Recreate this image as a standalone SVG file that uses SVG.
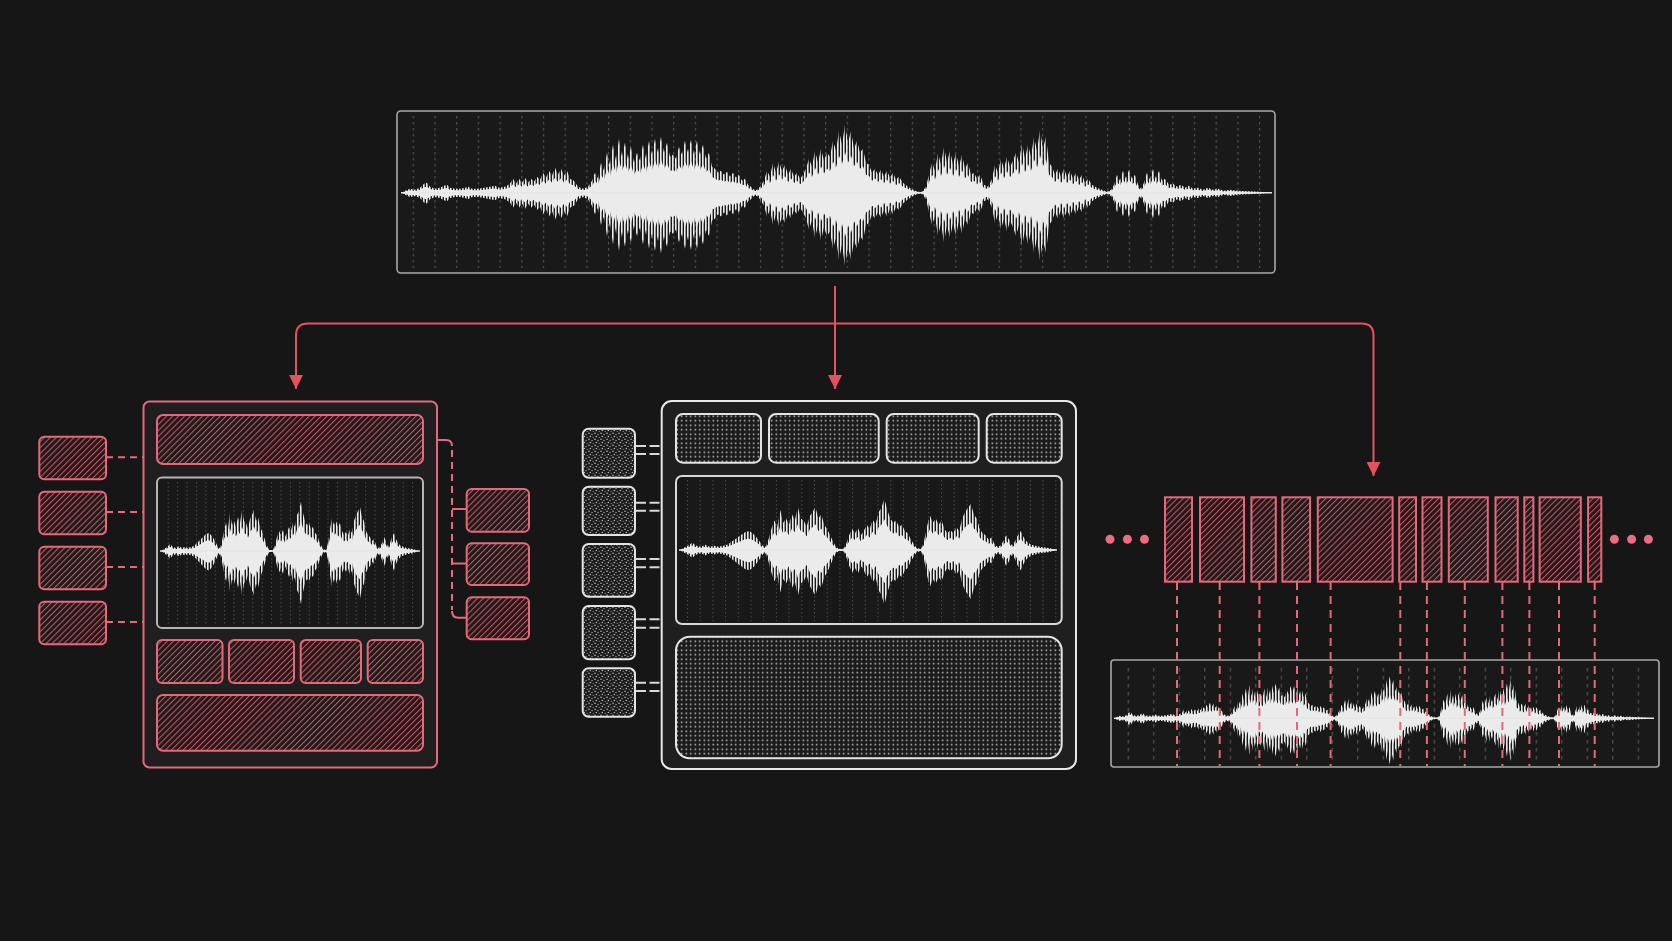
<svg xmlns="http://www.w3.org/2000/svg" width="1672" height="941" viewBox="0 0 1672 941">
<style>
.pk{fill:url(#hatch);stroke:#e8687b;stroke-width:2}
.gw{fill:url(#dots);stroke:#e4e4e4;stroke-width:2}
.gs{fill:url(#dots2);stroke:#e4e4e4;stroke-width:2}
.wbox{fill:#191919;stroke:#a8a8a8;stroke-width:1.6}
.red{stroke:#e5525e;stroke-width:2;fill:none}
.pdash{stroke:#e8687b;stroke-width:2;fill:none;stroke-dasharray:7 5}
.vdash{stroke:#e8687b;stroke-width:2;fill:none;stroke-dasharray:8 6}
.wdash{stroke:#d8d8d8;stroke-width:2;fill:none;stroke-dasharray:10 3.5}
.pl{stroke:#e8687b;stroke-width:2;fill:none}
.core{fill:#ebebeb}
.cl{stroke:#e6e6e6;stroke-width:1.4}
.pdot{fill:#ee6b80}
</style>
<defs>
<marker id="ah" markerWidth="14" markerHeight="14" refX="14" refY="7" orient="auto" markerUnits="userSpaceOnUse"><path d="M0,0 L14,7 L0,14 Z" fill="#e5525e"/></marker>
<pattern id="hatch" width="4.2" height="10" patternUnits="userSpaceOnUse" patternTransform="rotate(45)"><rect width="4.2" height="10" fill="#201a1b"/><rect width="1" height="10" fill="#c95865"/></pattern>
<pattern id="stripes" width="3" height="10" patternUnits="userSpaceOnUse"><rect width="1.6" height="10" fill="#ececec"/></pattern>
<pattern id="dots" width="4.5" height="4.5" patternUnits="userSpaceOnUse"><rect width="4.5" height="4.5" fill="#1b1b1b"/><circle cx="2.25" cy="2.25" r="0.8" fill="#d0d0d0"/></pattern>
<pattern id="dots2" width="6" height="6" patternUnits="userSpaceOnUse"><rect width="6" height="6" fill="#1b1b1b"/><circle cx="1" cy="1.2" r="0.75" fill="#c8c8c8"/><circle cx="4" cy="2.5" r="0.7" fill="#aaa"/><circle cx="2.3" cy="4.6" r="0.75" fill="#c0c0c0"/><circle cx="5.2" cy="5.3" r="0.6" fill="#999"/></pattern>
<pattern id="gTop" x="412.7" y="116" width="21.7" height="6" patternUnits="userSpaceOnUse"><rect width="1.2" height="2.5" fill="#505050"/></pattern>
<pattern id="gLeft" x="167.7" y="482" width="9.4" height="4" patternUnits="userSpaceOnUse"><rect width="1" height="1.6" fill="#4a4a4a"/></pattern>
<pattern id="gMid" x="687" y="480" width="12.7" height="4" patternUnits="userSpaceOnUse"><rect width="1" height="1.6" fill="#4a4a4a"/></pattern>
<pattern id="gBR" x="1127.7" y="668" width="25.5" height="8" patternUnits="userSpaceOnUse"><rect width="1.2" height="3.5" fill="#555"/></pattern>
<path id="wA" d="M402,0 L405,-2 L410,-4 L415,-3 L420,-5 L424,-9 L427,-10 L430,-6 L435,-4 L440,-5 L444,-7 L447,-8 L450,-5 L455,-4 L460,-4 L465,-5 L468,-6 L472,-4 L478,-4 L484,-5 L490,-6 L495,-7 L499,-5 L505,-6 L510,-9 L513,-14 L516,-9 L519,-14 L522,-10 L525,-15 L528,-10 L531,-14 L534,-11 L537,-16 L540,-13 L543,-20 L546,-15 L549,-22 L552,-17 L555,-25 L558,-18 L561,-24 L564,-17 L567,-22 L570,-14 L574,-12 L578,-6 L583,-4 L588,-6 L592,-12 L595,-20 L598,-14 L601,-30 L604,-22 L607,-40 L610,-28 L613,-48 L616,-32 L619,-54 L622,-36 L625,-50 L628,-34 L631,-46 L634,-30 L637,-40 L640,-32 L643,-48 L646,-34 L649,-52 L652,-38 L655,-54 L658,-40 L661,-56 L664,-40 L667,-50 L670,-36 L673,-38 L676,-34 L679,-46 L682,-38 L685,-52 L688,-40 L691,-53 L694,-38 L697,-52 L700,-38 L703,-48 L706,-34 L709,-40 L712,-26 L715,-24 L718,-20 L721,-22 L724,-18 L727,-21 L730,-16 L733,-20 L736,-15 L739,-18 L742,-12 L745,-14 L748,-8 L751,-6 L754,-3 L757,-3 L760,-6 L764,-12 L767,-22 L770,-16 L773,-30 L776,-20 L779,-31 L782,-22 L785,-28 L788,-18 L791,-24 L794,-16 L797,-20 L800,-14 L803,-18 L806,-24 L809,-34 L812,-26 L815,-42 L818,-30 L821,-44 L824,-32 L827,-40 L830,-36 L833,-52 L836,-42 L839,-62 L842,-48 L845,-68 L848,-50 L851,-62 L854,-44 L857,-52 L860,-40 L863,-44 L866,-30 L869,-28 L872,-20 L875,-24 L878,-18 L881,-23 L884,-16 L887,-22 L890,-15 L893,-20 L896,-13 L899,-16 L903,-10 L908,-6 L913,-3 L918,-1 L922,-1 L926,-6 L929,-18 L932,-30 L935,-22 L938,-40 L941,-28 L944,-46 L947,-30 L950,-42 L953,-28 L956,-40 L959,-26 L962,-38 L965,-24 L968,-30 L971,-18 L974,-20 L977,-14 L980,-18 L984,-8 L988,-6 L992,-14 L995,-28 L998,-20 L1001,-34 L1004,-24 L1007,-36 L1010,-26 L1013,-32 L1016,-40 L1019,-30 L1022,-50 L1025,-34 L1028,-48 L1031,-36 L1034,-56 L1037,-42 L1040,-63 L1043,-44 L1046,-56 L1049,-30 L1052,-26 L1055,-18 L1058,-24 L1061,-16 L1064,-24 L1067,-16 L1070,-22 L1073,-14 L1076,-20 L1079,-13 L1082,-18 L1085,-10 L1088,-14 L1092,-8 L1097,-5 L1102,-3 L1107,-1 L1111,-3 L1114,-8 L1117,-18 L1120,-12 L1123,-22 L1126,-14 L1129,-23 L1132,-14 L1135,-18 L1138,-8 L1141,-4 L1144,-10 L1147,-20 L1150,-13 L1153,-24 L1156,-14 L1159,-22 L1162,-12 L1165,-14 L1169,-8 L1173,-9 L1177,-6 L1181,-8 L1185,-5 L1189,-7 L1193,-4 L1198,-5 L1203,-3 L1208,-5 L1213,-3 L1218,-4 L1224,-2 L1230,-3 L1238,-2 L1248,-1.5 L1260,-1 L1270,0 Z"/>
<path id="wB" d="M161.7,0 L164,-2 L167,-4 L170,-7 L173,-4 L176,-3 L179,-5 L182,-3 L185,-4 L188,-3 L191,-4 L194,-5 L197,-8 L200,-11 L203,-14 L206,-17 L209,-18 L212,-15 L215,-10 L218,-4 L220,-3 L222,-10 L224,-20 L226,-28 L228,-22 L230,-38 L232,-26 L234,-30 L236,-24 L238,-34 L240,-28 L242,-41 L244,-30 L246,-28 L248,-22 L250,-32 L252,-36 L254,-41 L256,-30 L258,-34 L260,-24 L262,-20 L264,-14 L266,-8 L268,-3 L270,-1 L273,-1 L275,-6 L277,-14 L279,-20 L281,-16 L283,-21 L285,-14 L287,-18 L289,-24 L291,-20 L293,-29 L295,-24 L297,-36 L299,-40 L301,-49 L303,-38 L305,-30 L307,-26 L309,-28 L311,-22 L313,-24 L315,-18 L317,-16 L319,-10 L321,-6 L323,-2 L326,-1 L328,-8 L330,-22 L332,-33 L334,-26 L336,-30 L338,-24 L340,-28 L342,-20 L344,-16 L346,-19 L348,-16 L350,-22 L352,-18 L354,-30 L356,-36 L358,-40 L360,-44 L362,-34 L364,-30 L366,-20 L368,-16 L370,-14 L372,-10 L374,-12 L376,-6 L378,-3 L380,-4 L382,-8 L384,-14 L386,-10 L388,-4 L390,-8 L392,-14 L394,-18 L396,-12 L398,-8 L401,-5 L404,-4 L407,-3 L410,-2.5 L413,-2 L416,-1 L418.3,0 Z"/>
<clipPath id="cTop"><use href="#wA" transform="translate(0,192.7)"/><use href="#wA" transform="translate(0,192.7) scale(1,-1.08)"/></clipPath>
<clipPath id="cBR"><use href="#wA" transform="translate(865.76,718.3) scale(0.62,0.62)"/><use href="#wA" transform="translate(865.76,718.3) scale(0.62,-0.68)"/></clipPath>
<clipPath id="cLeft"><use href="#wB" transform="translate(0,551)"/><use href="#wB" transform="translate(0,551) scale(1,-1.08)"/></clipPath>
<clipPath id="cMid"><use href="#wB" transform="translate(442.8,550) scale(1.467,1.05)"/><use href="#wB" transform="translate(442.8,550) scale(1.467,-1.12)"/></clipPath>
</defs>
<rect width="1672" height="941" fill="#161616"/>

<g id="connectors">
<path class="red" d="M835,286 V389" marker-end="url(#ah)"/>
<path class="red" d="M835,323.5 H308 Q296,323.5 296,335.5 V389" marker-end="url(#ah)"/>
<path class="red" d="M835,323.5 H1361.5 Q1373.5,323.5 1373.5,335.5 V476" marker-end="url(#ah)"/>
<path class="pdash" d="M106,457.3 H143 M106,512 H143 M106,567 H143 M106,622 H143"/>
<path class="pl" d="M423,440 H446 Q452,440 452,446"/>
<path class="pdash" d="M452,450 V610"/>
<path class="pl" d="M452,611 Q452,617.7 458,617.7 H467 M452,509 H467 M452,563.5 H467"/>
<path class="wdash" d="M636,446 H661 M636,454 H661 M636,502.7 H661 M636,510.7 H661 M636,559 H661 M636,567.3 H661 M636,619.3 H661 M636,627.7 H661 M636,682.7 H661 M636,691 H661"/>
</g>

<g id="top-waveform">
<rect x="397" y="111" width="878" height="162" rx="4" class="wbox"/>
<rect x="410" y="116" width="852" height="152" fill="url(#gTop)"/>
<rect x="400" y="110" width="875" height="165" fill="url(#stripes)" clip-path="url(#cTop)"/>
<use href="#wA" class="core" transform="translate(0,192.7) scale(1,0.6)"/>
<use href="#wA" class="core" transform="translate(0,192.7) scale(1,-0.65)"/>
<line x1="401" y1="192.7" x2="1272" y2="192.7" class="cl"/>
</g>

<g id="left-panel">
<rect x="143.5" y="401.5" width="293.5" height="366" rx="6" fill="#1f1f1f" stroke="#e8687b" stroke-width="2"/>
<rect x="157" y="415" width="266" height="49" rx="6" class="pk"/>
<rect x="157" y="477.5" width="266" height="150.5" rx="5" fill="#181818" stroke="#b5b5b5" stroke-width="2"/>
<rect x="160" y="480" width="260" height="145" fill="url(#gLeft)"/>
<rect x="158" y="490" width="264" height="120" fill="url(#stripes)" clip-path="url(#cLeft)"/>
<use href="#wB" class="core" transform="translate(0,551) scale(1,0.6)"/>
<use href="#wB" class="core" transform="translate(0,551) scale(1,-0.65)"/>
<line x1="160" y1="551" x2="420" y2="551" class="cl"/>
<rect x="157" y="640" width="65.5" height="43" rx="5" class="pk"/>
<rect x="229" y="640" width="65" height="43" rx="5" class="pk"/>
<rect x="300.7" y="640" width="60.3" height="43" rx="5" class="pk"/>
<rect x="367.7" y="640" width="55.3" height="43" rx="5" class="pk"/>
<rect x="157" y="695" width="266" height="55.7" rx="6" class="pk"/>
</g>

<g id="left-inputs">
<rect id="li1" x="39.3" y="436.7" width="66.7" height="42.6" rx="5" class="pk"/>
<rect id="li2" x="39.3" y="491.7" width="66.7" height="42.6" rx="5" class="pk"/>
<rect id="li3" x="39.3" y="546.7" width="66.7" height="42.6" rx="5" class="pk"/>
<rect id="li4" x="39.3" y="601.7" width="66.7" height="42.6" rx="5" class="pk"/>
</g>

<g id="left-outputs">
<rect id="lo1" x="466.7" y="489" width="62.3" height="42.7" rx="5" class="pk"/>
<rect id="lo2" x="466.7" y="543.3" width="62.3" height="41.7" rx="5" class="pk"/>
<rect id="lo3" x="466.7" y="597.3" width="62.3" height="42" rx="5" class="pk"/>
</g>

<g id="middle-panel">
<rect x="661.7" y="401" width="414.3" height="368" rx="10" fill="#1f1f1f" stroke="#e8e8e8" stroke-width="2"/>
<rect x="676" y="414" width="85" height="48.7" rx="7" class="gw"/>
<rect x="769" y="414" width="109.7" height="48.7" rx="7" class="gw"/>
<rect x="886.7" y="414" width="92" height="48.7" rx="7" class="gw"/>
<rect x="986.7" y="414" width="75" height="48.7" rx="7" class="gw"/>
<rect x="676" y="476" width="385.7" height="148" rx="6" fill="#181818" stroke="#d8d8d8" stroke-width="2"/>
<rect x="680" y="479" width="378" height="142" fill="url(#gMid)"/>
<rect x="677" y="480" width="384" height="140" fill="url(#stripes)" clip-path="url(#cMid)"/>
<use href="#wB" class="core" transform="translate(442.8,550) scale(1.467,0.63)"/>
<use href="#wB" class="core" transform="translate(442.8,550) scale(1.467,-0.68)"/>
<line x1="679" y1="550" x2="1057" y2="550" class="cl"/>
<rect x="676" y="636.7" width="385.7" height="121.6" rx="14" class="gw"/>
</g>

<g id="middle-inputs">
<rect id="mi1" x="582.7" y="428.7" width="52.3" height="49" rx="6" class="gs"/>
<rect id="mi2" x="582.7" y="486.7" width="52.3" height="48.3" rx="6" class="gs"/>
<rect id="mi3" x="582.7" y="544" width="52.3" height="52.7" rx="6" class="gs"/>
<rect id="mi4" x="582.7" y="606" width="52.3" height="53.3" rx="6" class="gs"/>
<rect id="mi5" x="582.7" y="668.3" width="52.3" height="48.4" rx="6" class="gs"/>
</g>

<g id="right-waveform">
<rect x="1111" y="660" width="548" height="107" rx="3" class="wbox"/>
<rect x="1120" y="668" width="530" height="94" fill="url(#gBR)"/>
<rect x="1112" y="662" width="546" height="104" fill="url(#stripes)" clip-path="url(#cBR)"/>
<use href="#wA" class="core" transform="translate(865.76,718.3) scale(0.62,0.37)"/>
<use href="#wA" class="core" transform="translate(865.76,718.3) scale(0.62,-0.41)"/>
<line x1="1114" y1="718.3" x2="1654" y2="718.3" class="cl"/>
</g>

<g id="right-segments">
<circle class="pdot" cx="1110" cy="539.3" r="4.5"/>
<circle class="pdot" cx="1127.4" cy="539.3" r="4.5"/>
<circle class="pdot" cx="1144.5" cy="539.3" r="4.5"/>
<circle class="pdot" cx="1614.4" cy="539.3" r="4.5"/>
<circle class="pdot" cx="1631.6" cy="539.3" r="4.5"/>
<circle class="pdot" cx="1648.4" cy="539.3" r="4.5"/>
<rect class="pk" x="1165" y="497.3" width="27" height="84.4"/>
<rect class="pk" x="1200" y="497.3" width="44" height="84.4"/>
<rect class="pk" x="1251.4" y="497.3" width="24.4" height="84.4"/>
<rect class="pk" x="1282.4" y="497.3" width="27.7" height="84.4"/>
<rect class="pk" x="1317.8" y="497.3" width="74.8" height="84.4"/>
<rect class="pk" x="1399.2" y="497.3" width="16.8" height="84.4"/>
<rect class="pk" x="1422.5" y="497.3" width="19" height="84.4"/>
<rect class="pk" x="1448.8" y="497.3" width="39" height="84.4"/>
<rect class="pk" x="1495.5" y="497.3" width="22.2" height="84.4"/>
<rect class="pk" x="1524.3" y="497.3" width="9.1" height="84.4"/>
<rect class="pk" x="1539.6" y="497.3" width="41.2" height="84.4"/>
<rect class="pk" x="1588.1" y="497.3" width="13.2" height="84.4"/>
</g>

<g id="alignment-lines">
<path class="vdash" d="M1177,582 V766 M1219.7,582 V766 M1259.4,582 V766 M1297,582 V766 M1330.6,582 V766 M1400.3,582 V766 M1426.9,582 V766 M1464.8,582 V766 M1502.4,582 V766 M1529.4,582 V766 M1559,582 V766 M1594.7,582 V766"/>
</g>
</svg>
